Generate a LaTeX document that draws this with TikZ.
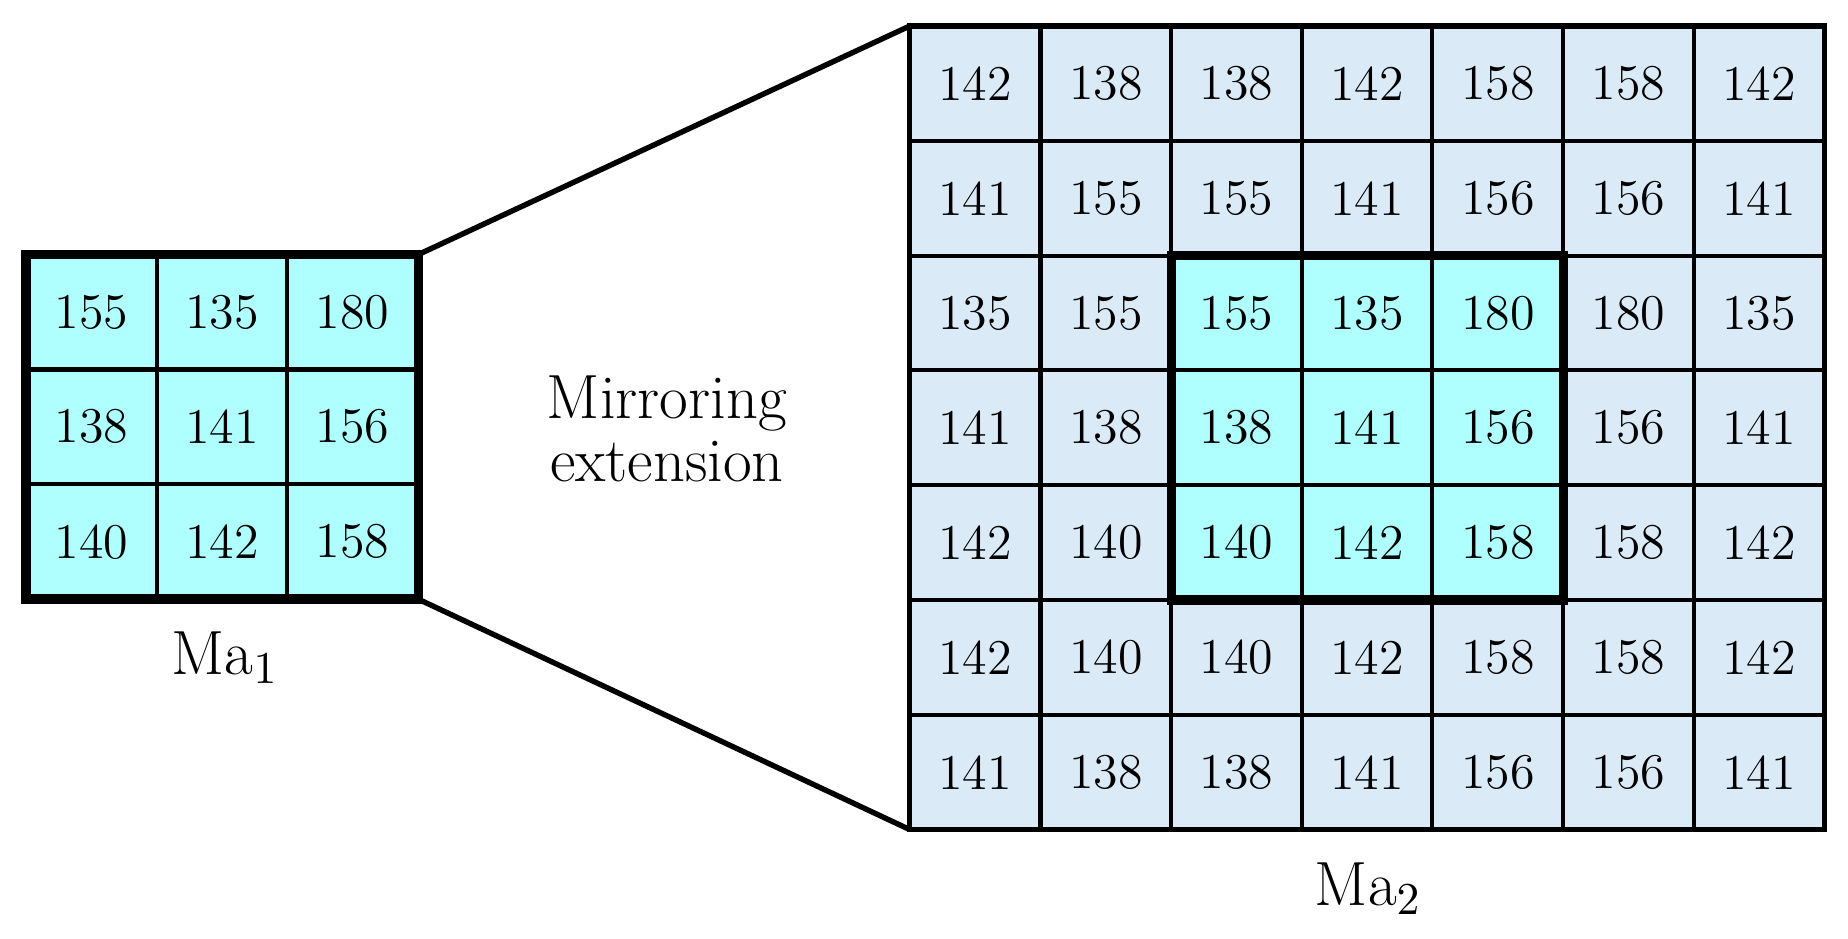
\documentclass[tikz,border=0pt]{standalone}
\usepackage{tikz}
\usetikzlibrary{positioning}
\definecolor{InnerCyan}{RGB}{175,255,255}
\definecolor{OuterBlue}{RGB}{218,234,246}
\tikzset{
    cell/.style={draw=black, line width=1pt, minimum width=1.103cm, minimum height=0.969cm,
        inner sep=0pt, outer sep=0pt, font=\fontsize{12}{14}\selectfont},
    thickbox/.style={draw=black, line width=2.2pt},
    caption/.style={font=\fontsize{15}{18}\selectfont, align=center}
}
\begin{document}
\begin{tikzpicture}[x=0.01cm, y=-0.01cm]
    \useasboundingbox (0,0) rectangle (1560,792);
    % small matrix
    \foreach \row/\vals in {0/{155,135,180},1/{138,141,156},2/{140,142,158}}{
        \foreach \v [count=\col from 0] in \vals{
            \node[cell, fill=InnerCyan] (s-\row-\col) at (22+55.15+110.3*\col, 215+48.45+96.9*\row) {\v};
        }
    }
    \draw[thickbox] (s-0-0.north west) rectangle (s-2-2.south east);
    % big matrix
    \foreach \row/\vals in {0/{142,138,138,142,158,158,142},1/{141,155,155,141,156,156,141},
        2/{135,155,155,135,180,180,135},3/{141,138,138,141,156,156,141},
        4/{142,140,140,142,158,158,142},5/{142,140,140,142,158,158,142},
        6/{141,138,138,141,156,156,141}}{
        \foreach \v [count=\col from 0] in \vals{
            \pgfmathsetmacro{\inner}{(\row>1 && \row<5 && \col>1 && \col<5) ? 1 : 0}
            \ifdim\inner pt>0.5pt
                \node[cell, fill=InnerCyan] (b-\row-\col) at (768+55.15+110.3*\col, 22+48.45+96.9*\row) {\v};
            \else
                \node[cell, fill=OuterBlue] (b-\row-\col) at (768+55.15+110.3*\col, 22+48.45+96.9*\row) {\v};
            \fi
        }
    }
    \draw[line width=1.3pt] (b-0-0.north west) rectangle (b-6-6.south east);
    \draw[thickbox] (b-2-2.north west) rectangle (b-4-4.south east);
    % connecting lines
    \draw[line width=1.3pt] (s-0-2.north east) -- (b-0-0.north west);
    \draw[line width=1.3pt] (s-2-2.south east) -- (b-6-0.south west);
    % labels
    \node[caption] (mirror) at (563,362) {Mirroring\\[-3pt]extension};
    \node[caption] (ma1) at (190,555) {Ma$_1$};
    \node[caption] (ma2) at (1155,750) {Ma$_2$};
\end{tikzpicture}
\end{document}
